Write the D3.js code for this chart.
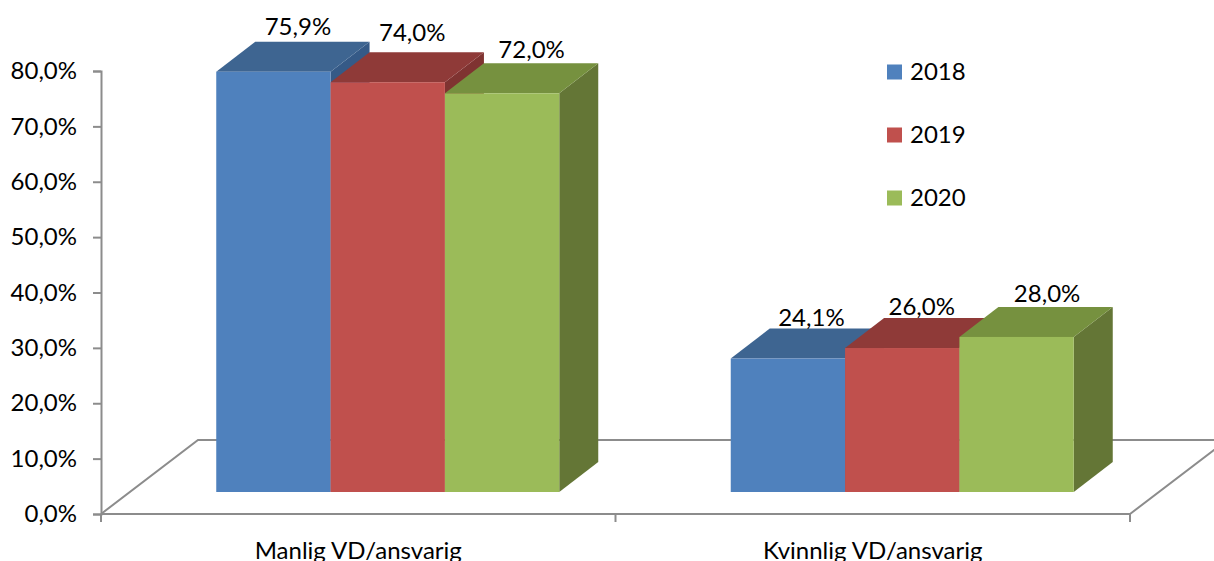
<!DOCTYPE html>
<html>
<head>
<meta charset="utf-8">
<script src="https://cdnjs.cloudflare.com/ajax/libs/d3/7.8.5/d3.min.js"></script>
<style>
  html, body { margin: 0; padding: 0; background: #fff; overflow: hidden; }
  text { font-family: Lato, "Open Sans", sans-serif; fill: #000; }
</style>
</head>
<body>
<div id="chart"></div>
<script>
const categories = ['Manlig VD/ansvarig', 'Kvinnlig VD/ansvarig'];
const years = ['2018', '2019', '2020'];
const values2018 = [75.9, 24.1];
const values2019 = [74.0, 26.0];
const values2020 = [72.0, 28.0];
const yTicks = [0, 10, 20, 30, 40, 50, 60, 70, 80];

const faceColors = ['#4F81BD', '#C0504D', '#9BBB59'];
const topColors = ['#3E6591', '#8F3A38', '#76913F'];
const sideColors = ['#355A87', '#7F3331', '#647636'];

const width = 1214, height = 561;
const axisColor = '#8C8C8C';
const fontSize = 24;

// the "3D" box: floor goes back by this much, bars sit in the middle of it
const floorDx = 97, floorDy = -74;
const barInsetX = 29.5, barInsetY = -22;
const barDx = 39, barDy = -30;

const series = years.map((year, i) => ({
    year,
    index: i,
    values: [values2018, values2019, values2020][i]
}));

const x0 = d3.scaleBand().domain(categories).range([101, 1130]).paddingInner(0).paddingOuter(0);
const x1 = d3.scaleBand().domain(years).range([x0.bandwidth() / 6, x0.bandwidth() * 5 / 6]);
const y = d3.scaleLinear().domain([0, 80]).range([514, 71]);

const pct = d3.formatLocale({ decimal: ',', thousands: ' ', grouping: [3], currency: ['', ''] }).format('.1f');

const svg = d3.select('#chart')
    .append('svg')
    .attr('width', width)
    .attr('height', height)
    .style('display', 'block');

// floor
const x0Left = x0.range()[0], x0Right = x0.range()[1], yBase = y(0);
svg.append('path')
    .attr('d', `M${x0Left},${yBase}L${x0Left + floorDx},${yBase + floorDy}L${x0Right + floorDx},${yBase + floorDy}L${x0Right},${yBase}`)
    .attr('fill', 'none')
    .attr('stroke', axisColor)
    .attr('stroke-width', 2);

// y axis
const yAxis = svg.append('g')
    .attr('transform', `translate(${x0Left},0)`)
    .call(d3.axisLeft(y).tickValues(yTicks).tickSize(8).tickPadding(16).tickFormat(d => pct(d) + '%'));
yAxis.selectAll('line, path').attr('stroke', axisColor).attr('stroke-width', 2);
yAxis.selectAll('text').attr('font-size', fontSize);
yAxis.attr('font-family', null);

// x axis, ticks sit between the categories
svg.append('line')
    .attr('x1', x0Left).attr('x2', x0Right)
    .attr('y1', yBase).attr('y2', yBase)
    .attr('stroke', axisColor).attr('stroke-width', 2);
svg.selectAll('.xtick')
    .data([x0Left, x0(categories[1]), x0Right])
    .enter()
    .append('line')
    .attr('class', 'xtick')
    .attr('x1', d => d).attr('x2', d => d)
    .attr('y1', yBase).attr('y2', yBase + 8)
    .attr('stroke', axisColor).attr('stroke-width', 2);
svg.selectAll('.xlabel')
    .data(categories)
    .enter()
    .append('text')
    .attr('class', 'xlabel')
    .attr('x', d => x0(d) + x0.bandwidth() / 2)
    .attr('y', 559)
    .attr('text-anchor', 'middle')
    .attr('font-size', fontSize)
    .text(d => d);

// bars, one group per category so the overlaps paint left to right
const bars = categories.flatMap((cat, c) => series.map(s => ({ cat, c, s, value: s.values[c] })));
const bar = svg.selectAll('.bar')
    .data(bars)
    .enter()
    .append('g')
    .attr('class', 'bar');

const barLeft = d => x0(d.cat) + x1(d.s.year) + barInsetX;
const barRight = d => barLeft(d) + x1.bandwidth();
const barTop = d => y(d.value) + barInsetY;
const barBottom = yBase + barInsetY;

bar.append('path')
    .attr('fill', d => sideColors[d.s.index])
    .attr('d', d => `M${barRight(d)},${barTop(d)}l${barDx},${barDy}L${barRight(d) + barDx},${barBottom + barDy}L${barRight(d)},${barBottom}Z`);
bar.append('path')
    .attr('fill', d => topColors[d.s.index])
    .attr('d', d => `M${barLeft(d)},${barTop(d)}l${barDx},${barDy}L${barRight(d) + barDx},${barTop(d) + barDy}L${barRight(d)},${barTop(d)}Z`);
bar.append('rect')
    .attr('fill', d => faceColors[d.s.index])
    .attr('x', barLeft)
    .attr('y', barTop)
    .attr('width', x1.bandwidth())
    .attr('height', d => barBottom - barTop(d));

// value labels were hand placed in the original, so nudge them per bar
const nudgeX = [[5, 5, 10], [4, 0, 11]];
const nudgeY = [[-7, -11, -5], [-3, -3, -5]];
svg.selectAll('.value')
    .data(bars)
    .enter()
    .append('text')
    .attr('class', 'value')
    .attr('x', d => barLeft(d) + x1.bandwidth() / 2 + barDx / 2 + nudgeX[d.c][d.s.index])
    .attr('y', d => barTop(d) + barDy + nudgeY[d.c][d.s.index])
    .attr('text-anchor', 'middle')
    .attr('font-size', fontSize)
    .text(d => pct(d.value) + '%');

// legend
const legendY = d3.scalePoint().domain(years).range([72, 198]);
const legend = svg.selectAll('.legend')
    .data(series)
    .enter()
    .append('g')
    .attr('class', 'legend')
    .attr('transform', d => `translate(887,${legendY(d.year)})`);
legend.append('rect')
    .attr('y', -7.5)
    .attr('width', 15)
    .attr('height', 15)
    .attr('fill', d => faceColors[d.index]);
legend.append('text')
    .attr('x', 23)
    .attr('y', 8)
    .attr('font-size', fontSize)
    .text(d => d.year);
</script>
</body>
</html>
